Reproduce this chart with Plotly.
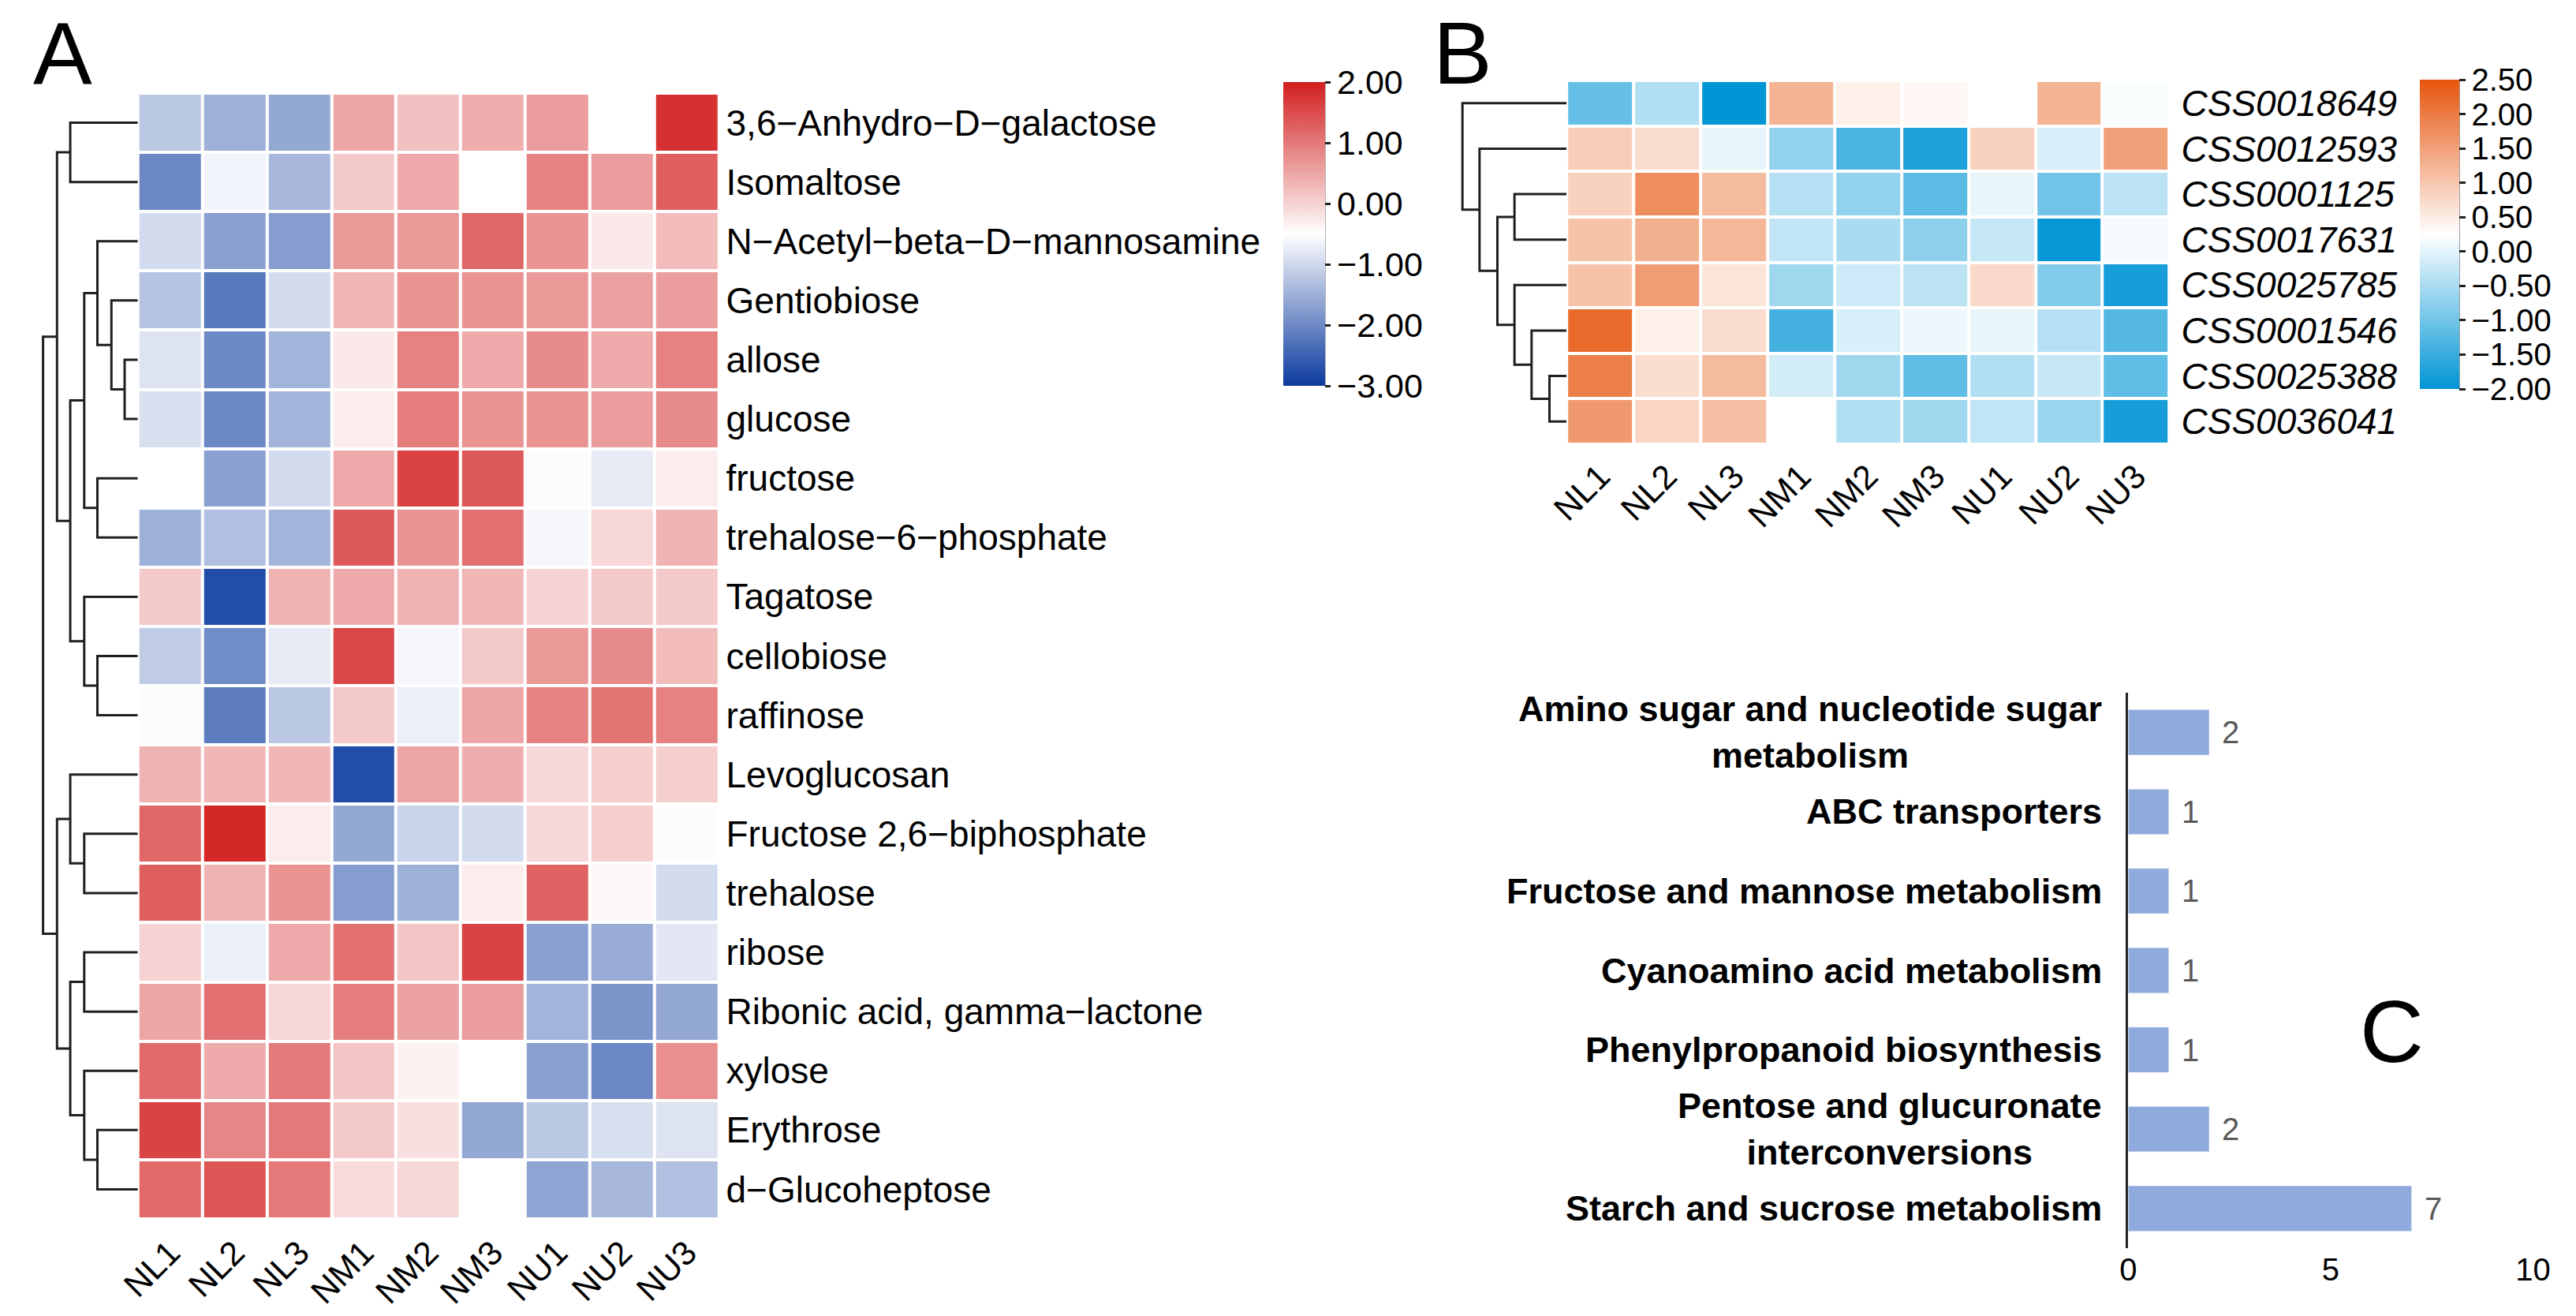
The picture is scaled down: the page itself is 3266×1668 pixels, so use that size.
import plotly.graph_objects as go

W, H = 3266, 1668

# ---------------- data ----------------
samples = ["NL1", "NL2", "NL3", "NM1", "NM2", "NM3", "NU1", "NU2", "NU3"]

metabolites = [
    "3,6\u2212Anhydro\u2212D\u2212galactose", "Isomaltose", "N\u2212Acetyl\u2212beta\u2212D\u2212mannosamine",
    "Gentiobiose", "allose", "glucose", "fructose", "trehalose\u22126\u2212phosphate", "Tagatose",
    "cellobiose", "raffinose", "Levoglucosan", "Fructose 2,6\u2212biphosphate", "trehalose", "ribose",
    "Ribonic acid, gamma\u2212lactone", "xylose", "Erythrose", "d\u2212Glucoheptose",
]

metab_z = [
    [-1.2, -1.5, -1.6, 0.5, 0.2, 0.4, 0.6, -0.5, 1.8],
    [-2.0, -0.65, -1.4, 0.1, 0.45, -0.5, 0.9, 0.6, 1.3],
    [-0.95, -1.7, -1.75, 0.65, 0.65, 1.2, 0.7, -0.25, 0.25],
    [-1.25, -2.2, -0.95, 0.3, 0.7, 0.7, 0.65, 0.55, 0.6],
    [-0.85, -2.0, -1.45, -0.25, 0.9, 0.45, 0.8, 0.45, 0.9],
    [-0.9, -2.0, -1.45, -0.3, 0.95, 0.7, 0.7, 0.6, 0.8],
    [-0.5, -1.7, -0.95, 0.45, 1.6, 1.35, -0.45, -0.75, -0.3],
    [-1.5, -1.3, -1.45, 1.35, 0.7, 1.1, -0.6, -0.05, 0.35],
    [0.1, -2.75, 0.35, 0.45, 0.35, 0.3, 0.0, 0.1, 0.1],
    [-1.15, -1.95, -0.75, 1.55, -0.6, 0.1, 0.65, 0.8, 0.25],
    [-0.45, -2.15, -1.2, 0.1, -0.7, 0.5, 0.9, 1.05, 0.9],
    [0.35, 0.3, 0.3, -2.75, 0.5, 0.4, -0.05, 0.05, 0.05],
    [1.2, 1.9, -0.3, -1.6, -1.05, -0.95, -0.05, 0.05, -0.45],
    [1.3, 0.35, 0.7, -1.75, -1.5, -0.3, 1.25, -0.4, -0.95],
    [0.0, -0.7, 0.45, 1.1, 0.15, 1.6, -1.7, -1.55, -0.8],
    [0.5, 1.1, -0.05, 0.95, 0.55, 0.6, -1.45, -1.85, -1.6],
    [1.15, 0.45, 1.0, 0.15, -0.35, -0.5, -1.7, -2.0, 0.75],
    [1.6, 0.85, 1.0, 0.1, -0.15, -1.6, -1.2, -0.9, -0.85],
    [1.15, 1.4, 1.0, -0.1, -0.05, -0.5, -1.65, -1.4, -1.3],
]

# dendrogram merges: (child_a, child_b, height); leaves 0..n-1, new nodes n, n+1, ...
metab_merges = [
    (0, 1, 87), (4, 5, 17), (3, 20, 34), (2, 21, 52), (6, 7, 52), (22, 23, 69),
    (9, 10, 52), (8, 25, 69), (24, 26, 87), (19, 27, 104), (12, 13, 69), (11, 29, 87),
    (14, 15, 69), (17, 18, 52), (16, 32, 69), (31, 33, 87), (30, 34, 104), (28, 35, 122),
]

genes = ["CSS0018649", "CSS0012593", "CSS0001125", "CSS0017631",
         "CSS0025785", "CSS0001546", "CSS0025388", "CSS0036041"]

gene_z = [
    [-1.1, -0.45, -2.0, 1.25, 0.45, 0.35, 0.25, 1.25, 0.2],
    [0.9, 0.7, 0.05, -0.7, -1.35, -1.75, 0.85, -0.1, 1.5],
    [0.85, 1.75, 1.15, -0.4, -0.7, -1.2, 0.05, -1.0, -0.35],
    [1.05, 1.3, 1.2, -0.3, -0.5, -0.75, -0.25, -1.95, 0.15],
    [1.05, 1.55, 0.6, -0.6, -0.2, -0.35, 0.75, -0.85, -1.8],
    [2.2, 0.45, 0.7, -1.4, -0.1, 0.1, 0.05, -0.4, -1.25],
    [1.95, 0.7, 1.15, -0.15, -0.6, -1.15, -0.45, -0.25, -1.15],
    [1.6, 0.8, 1.1, 0.25, -0.45, -0.6, -0.3, -0.65, -1.8],
]

gene_merges = [
    (2, 3, 67), (6, 7, 22), (5, 9, 45), (4, 10, 67), (8, 11, 89), (1, 12, 112), (0, 13, 134),
]

pathways = [
    "Amino sugar and nucleotide sugar metabolism", "ABC transporters",
    "Fructose and mannose metabolism", "Cyanoamino acid metabolism",
    "Phenylpropanoid biosynthesis", "Pentose and glucuronate interconversions",
    "Starch and sucrose metabolism",
]
pathway_labels = [
    "Amino sugar and nucleotide sugar<br>metabolism", "ABC transporters",
    "Fructose and mannose metabolism", "Cyanoamino acid metabolism",
    "Phenylpropanoid biosynthesis", "Pentose and glucuronate<br>interconversions",
    "Starch and sucrose metabolism",
]
pathway_counts = [2, 1, 1, 1, 1, 2, 7]

metab_ticks = [2, 1, 0, -1, -2, -3]
gene_ticks = [2.5, 2.0, 1.5, 1.0, 0.5, 0.0, -0.5, -1.0, -1.5, -2.0]

# ---------------- helpers ----------------
FONT = "Arial, Liberation Sans, sans-serif"


def px_x(v):
    return v / W


def px_y(v):
    return 1 - v / H


def dendro_lines(n, merges):
    pos = {i: float(i) for i in range(n)}
    hgt = {i: 0.0 for i in range(n)}
    xs, ys = [], []
    for k, (a, b, h) in enumerate(merges):
        node = n + k
        ya, yb = pos[a], pos[b]
        xs += [hgt[a], h, h, hgt[b], None]
        ys += [ya, ya, yb, yb, None]
        pos[node] = (ya + yb) / 2
        hgt[node] = h
    return xs, ys


# ---------------- layout geometry (pixels) ----------------
A_L, A_R, A_T, A_B = 150, 898, 118, 1545
B_L, B_R, B_T, B_B = 1989, 2765, 102, 563
C_L, C_R, C_T, C_B = 2712, 3233, 878, 1582
DA_L = 0
DB_L = 1849
CBA_L, CBA_R, CBA_T, CBA_B = 1624, 1677, 104, 489
CBB_L, CBB_R, CBB_T, CBB_B = 3087, 3137, 101, 493

fig = go.Figure()

# Heatmap A
fig.add_trace(go.Heatmap(
    z=metab_z, x=samples, y=metabolites, zmin=-3, zmax=2,
    colorscale=[[0, "#0B3A9E"], [0.5, "#FFFFFF"], [1, "#D21F1F"]],
    xgap=4, ygap=4, xaxis="x", yaxis="y",
    colorbar=dict(
        x=px_x(CBA_L), xanchor="left", y=px_y(CBA_T), yanchor="top",
        len=(CBA_B - CBA_T) / H, lenmode="fraction",
        thickness=CBA_R - CBA_L, thicknessmode="pixels",
        xpad=0, ypad=0, outlinewidth=0,
        tickvals=metab_ticks, tickformat=".2f", ticks="outside", ticklen=7,
        tickwidth=3, tickcolor="#222222",
        tickfont=dict(family=FONT, size=43, color="black"),
    ),
))

# Heatmap B
fig.add_trace(go.Heatmap(
    z=gene_z, x=samples, y=genes, zmin=-2, zmax=2.5,
    colorscale=[[0, "#0095D5"], [0.5, "#FFFFFF"], [1, "#E6550D"]],
    xgap=4, ygap=4, xaxis="x2", yaxis="y2",
    colorbar=dict(
        x=px_x(CBB_L), xanchor="left", y=px_y(CBB_T), yanchor="top",
        len=(CBB_B - CBB_T) / H, lenmode="fraction",
        thickness=CBB_R - CBB_L, thicknessmode="pixels",
        xpad=0, ypad=0, outlinewidth=0,
        tickvals=gene_ticks, tickformat=".2f", ticks="outside", ticklen=8,
        tickwidth=3, tickcolor="#222222",
        tickfont=dict(family=FONT, size=40, color="black"),
    ),
))

# Bar chart C
fig.add_trace(go.Bar(
    x=pathway_counts, y=pathways, orientation="h", marker_color="#8FAADC",
    width=0.57, xaxis="x3", yaxis="y3", hoverinfo="skip",
))

# Dendrograms
xa, ya = dendro_lines(len(metabolites), metab_merges)
fig.add_trace(go.Scatter(x=xa, y=ya, mode="lines", line=dict(color="#1f1f1f", width=3),
                         xaxis="x4", yaxis="y4", hoverinfo="skip"))
xb, yb = dendro_lines(len(genes), gene_merges)
fig.add_trace(go.Scatter(x=xb, y=yb, mode="lines", line=dict(color="#1f1f1f", width=3),
                         xaxis="x5", yaxis="y5", hoverinfo="skip"))

noax = dict(showgrid=False, zeroline=False, showline=False, showticklabels=False, ticks="")

fig.update_layout(
    width=W, height=H, margin=dict(l=0, r=0, t=0, b=0),
    paper_bgcolor="white", plot_bgcolor="white", showlegend=False,
    font=dict(family=FONT, color="black"),
    xaxis=dict(domain=[px_x(A_L), px_x(A_R)], anchor="y", tickangle=-45,
               tickfont=dict(size=43), ticks="", showgrid=False, zeroline=False,
               ticklabelstandoff=8),
    yaxis=dict(domain=[px_y(A_B), px_y(A_T)], anchor="x", side="right",
               range=[len(metabolites) - 0.5, -0.5], tickfont=dict(size=46),
               ticks="", showgrid=False, zeroline=False, ticklabelstandoff=8),
    xaxis2=dict(domain=[px_x(B_L), px_x(B_R)], anchor="y2", tickangle=-45,
                tickfont=dict(size=43), ticks="", showgrid=False, zeroline=False,
                ticklabelstandoff=6),
    yaxis2=dict(domain=[px_y(B_B), px_y(B_T)], anchor="x2", side="right",
                range=[len(genes) - 0.5, -0.5], tickfont=dict(size=46),
                tickvals=genes, ticktext=["<i>%s</i>" % g for g in genes],
                ticks="", showgrid=False, zeroline=False, ticklabelstandoff=14),
    xaxis3=dict(domain=[px_x(C_L), px_x(C_R)], anchor="y3", range=[0, 10],
                tickvals=[0, 5, 10], tickfont=dict(size=40), ticks="",
                showgrid=False, zeroline=False, showline=False),
    yaxis3=dict(domain=[px_y(C_B), px_y(C_T)], anchor="x3",
                range=[len(pathways) - 0.5, -0.5], showticklabels=False, ticks="",
                showgrid=False, zeroline=False, showline=True, linecolor="#222222",
                linewidth=3),
    xaxis4=dict(domain=[px_x(DA_L), px_x(A_L)], anchor="y4", range=[A_L - DA_L, 0], **noax),
    yaxis4=dict(domain=[px_y(A_B), px_y(A_T)], anchor="x4",
                range=[len(metabolites) - 0.5, -0.5], **noax),
    xaxis5=dict(domain=[px_x(DB_L), px_x(B_L)], anchor="y5", range=[B_L - DB_L, 0], **noax),
    yaxis5=dict(domain=[px_y(B_B), px_y(B_T)], anchor="x5",
                range=[len(genes) - 0.5, -0.5], **noax),
)

# colorbar edge lines
fig.add_shape(type="line", xref="paper", yref="paper", x0=px_x(CBA_R), x1=px_x(CBA_R),
              y0=px_y(CBA_B), y1=px_y(CBA_T), line=dict(color="#222222", width=3))
fig.add_shape(type="line", xref="paper", yref="paper", x0=px_x(CBB_R), x1=px_x(CBB_R),
              y0=px_y(CBB_B), y1=px_y(CBB_T), line=dict(color="#222222", width=3))

# panel letters
for letter, lx, ly in [("A", 13, 68), ("B", 1815, 68), ("C", 3008, 1307)]:
    fig.add_annotation(text=letter, x=px_x(lx), y=px_y(ly), xref="paper", yref="paper",
                       xanchor="left", yanchor="middle", showarrow=False,
                       font=dict(family=FONT, size=112, color="black"))

# bar chart labels
for name, lab, v in zip(pathways, pathway_labels, pathway_counts):
    fig.add_annotation(text=lab, x=px_x(2680), xref="paper", y=name, yref="y3",
                       xanchor="right", yanchor="middle", align="center", showarrow=False,
                       font=dict(family=FONT, size=45, color="black", weight="bold"))
    fig.add_annotation(text=str(v), x=v, xref="x3", y=name, yref="y3", xanchor="left",
                       yanchor="middle", xshift=14, showarrow=False,
                       font=dict(family=FONT, size=40, color="#595959"))

fig.write_html("out.html", config={"displayModeBar": False},
               post_script="document.body.style.margin='0px';document.body.style.overflow='hidden';")
